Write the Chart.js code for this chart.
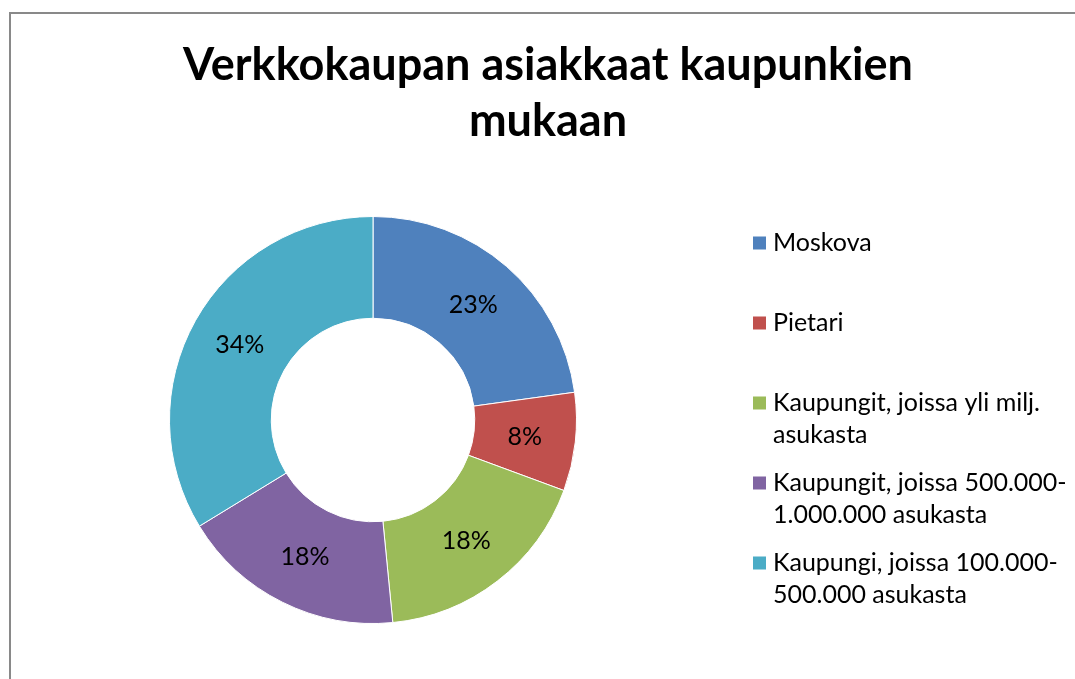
<!DOCTYPE html>
<html>
<head>
<meta charset="utf-8">
<script src="https://cdn.jsdelivr.net/npm/chart.js@4.4.0/dist/chart.umd.min.js"></script>
<style>
  html, body { margin: 0; padding: 0; background: #fff; overflow: hidden; }
  #frame { position: absolute; left: 9px; top: 12px; width: 1074px; height: 700px; border: 2px solid #898989; }
  canvas { display: block; }
</style>
</head>
<body>
<div id="frame"><canvas id="chart" width="1074" height="680"></canvas></div>
<script>
// data (shares of customers, %)
const cities = [
  ["Moskova"],
  ["Pietari"],
  ["Kaupungit, joissa yli milj.", "asukasta"],
  ["Kaupungit, joissa 500.000-", "1.000.000 asukasta"],
  ["Kaupungi, joissa 100.000-", "500.000 asukasta"]
];
const shares = [22.8, 7.8, 17.8, 17.8, 33.7];
const colors = ["#4F81BD", "#C0504D", "#9BBB59", "#8064A2", "#4BACC6"];
const titleLines = ["Verkkokaupan asiakkaat kaupunkien", "mukaan"];

const FONT = "Lato";

// title centred over the whole frame (the built-in one is squeezed by the padding)
const bigTitle = {
  id: "bigTitle",
  afterDraw(chart) {
    const ctx = chart.ctx;
    ctx.save();
    ctx.font = "bold 45px " + FONT;
    ctx.fillStyle = "#000";
    ctx.textAlign = "center";
    ctx.textBaseline = "alphabetic";
    titleLines.forEach((t, i) => ctx.fillText(t, chart.width / 2, 66 + i * 56));
    ctx.restore();
  }
};

// percentage labels in the middle of each slice
const sliceLabels = {
  id: "sliceLabels",
  afterDatasetsDraw(chart) {
    const ctx = chart.ctx;
    const data = chart.data.datasets[0].data;
    const total = data.reduce((a, b) => a + b, 0);
    ctx.save();
    ctx.font = "25px " + FONT;
    ctx.fillStyle = "#000";
    ctx.textAlign = "center";
    ctx.textBaseline = "middle";
    chart.getDatasetMeta(0).data.forEach((arc, i) => {
      const p = arc.getCenterPoint();
      ctx.fillText(Math.round(data[i] / total * 100) + "%", p.x, p.y);
    });
    ctx.restore();
  }
};

// legend on the right, with wrapped lines like the original
const sideLegend = {
  id: "sideLegend",
  afterDraw(chart) {
    const ctx = chart.ctx;
    const x = 742, y0 = 229, step = 80, lineStep = 32, box = 13;
    ctx.save();
    ctx.font = "25px " + FONT;
    ctx.textBaseline = "middle";
    chart.data.labels.forEach((lines, i) => {
      const y = y0 + i * step;
      ctx.fillStyle = colors[i];
      ctx.fillRect(x, y - box / 2, box, box);
      ctx.fillStyle = "#000";
      lines.forEach((t, j) => ctx.fillText(t, x + 20, y + j * lineStep));
    });
    ctx.restore();
  }
};

new Chart(document.getElementById("chart"), {
  type: "doughnut",
  data: {
    labels: cities,
    datasets: [{
      data: shares,
      backgroundColor: colors,
      borderColor: "#fff",
      borderWidth: 1
    }]
  },
  options: {
    responsive: false,
    devicePixelRatio: 1,
    animation: false,
    cutout: "50%",
    layout: { padding: { left: 158, right: 508, top: 202, bottom: 70 } },
    plugins: {
      legend: { display: false },
      tooltip: { enabled: false },
      title: { display: false }
    }
  },
  plugins: [bigTitle, sliceLabels, sideLegend]
});
</script>
</body>
</html>
